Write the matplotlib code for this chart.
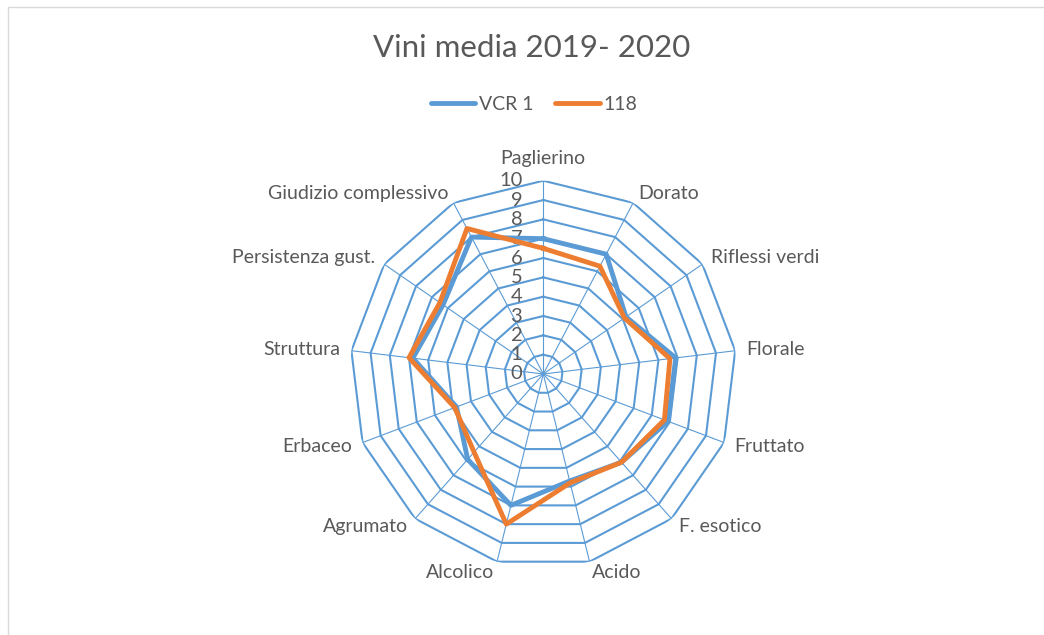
import numpy as np
import matplotlib
matplotlib.use("Agg")
import matplotlib.pyplot as plt
from matplotlib.patches import Rectangle
from matplotlib.lines import Line2D

plt.rcParams['font.family'] = ['Lato', 'DejaVu Sans']

categorie = ["Paglierino", "Dorato", "Riflessi verdi", "Florale", "Fruttato",
             "F. esotico", "Acido", "Alcolico", "Agrumato", "Erbaceo",
             "Struttura", "Persistenza gust.", "Giudizio complessivo"]
vcr1 = [7.0, 7.0, 5.2, 6.9, 6.9, 6.1, 5.7, 7.0, 5.9, 4.8, 6.8, 6.3, 8.0]
s118 = [6.5, 6.3, 5.1, 6.6, 6.7, 6.1, 5.8, 8.0, 5.4, 4.9, 7.0, 6.5, 8.5]
livelli = list(range(0, 11))

blu = "#5B9BD5"
arancio = "#ED7D31"
grigio = "#595959"

W, H = 1044, 635
fig = plt.figure(figsize=(W / 100, H / 100), dpi=100)

# bordo grigio del grafico (Excel)
fig.patches.append(Rectangle((8 / W, -0.05), 1.1, 1 - 7 / H + 0.05,
                             transform=fig.transFigure, fill=False,
                             edgecolor="#D9D9D9", lw=1))

fig.text(531.5 / W, 1 - 48 / H, "Vini media 2019- 2020", ha="center",
         va="center", fontsize=22.5, color=grigio)

# centro (543, 374), raggio 193 px
cx, cy, R = 543.3, 374, 193.3
ax = fig.add_axes([(cx - R) / W, 1 - (cy + R) / H, 2 * R / W, 2 * R / H],
                  projection="polar")
ax.set_theta_zero_location("N")
ax.set_theta_direction(-1)
ax.set_ylim(0, 10)
ax.grid(False)
ax.set_xticks([])
ax.set_yticks([])
ax.spines["polar"].set_visible(False)
ax.patch.set_alpha(0)

n = len(categorie)
ang = np.arange(n) * 2 * np.pi / n
ang_c = np.append(ang, ang[0])

# griglia poligonale
for v in livelli[1:]:
    ax.plot(ang_c, [v] * (n + 1), color=blu, lw=1.5, zorder=1)
for a in ang:
    ax.plot([a, a], [0, 10], color=blu, lw=0.8, zorder=1)

# etichette dei valori
for v in livelli:
    ax.annotate(str(v), xy=(0, v), xytext=(-21 * 0.72, 0),
                textcoords="offset points", ha="right", va="center",
                fontsize=14.5, color=grigio)

# etichette delle categorie
for a, nome in zip(ang, categorie):
    s, c = np.sin(a), np.cos(a)
    if abs(s) < 0.01:
        ha = "center"
        d = 22
    else:
        ha = "left" if s > 0 else "right"
        d = 11
    ax.annotate(nome, xy=(a, 10), xytext=(d * s * 0.72, d * c * 0.72),
                textcoords="offset points", ha=ha, va="center",
                fontsize=14, color=grigio)

ax.plot(ang_c, vcr1 + vcr1[:1], color=blu, lw=3.5, zorder=3)
ax.plot(ang_c, s118 + s118[:1], color=arancio, lw=3.5, zorder=4)

handles = [Line2D([], [], color=blu, lw=3.5, solid_capstyle="round"),
           Line2D([], [], color=arancio, lw=3.5, solid_capstyle="round")]
fig.legend(handles, ["VCR 1", "118"], loc="center",
           bbox_to_anchor=(534 / W, 1 - 104 / H), ncol=2, frameon=False,
           fontsize=14, labelcolor=grigio, handlelength=2.3,
           handletextpad=0.2, columnspacing=1.1)

fig.savefig("out.png", dpi=100)
